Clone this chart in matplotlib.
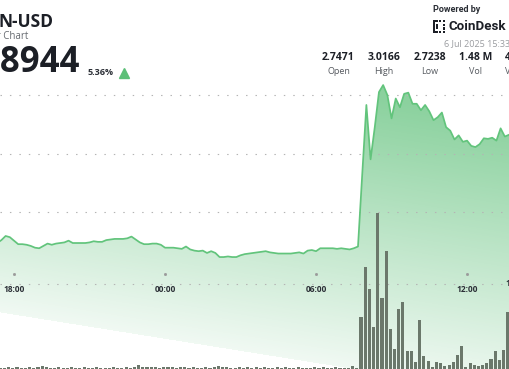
import numpy as np
import pandas as pd
import matplotlib
matplotlib.use("Agg")
import matplotlib.pyplot as plt
import matplotlib.dates as mdates
import matplotlib.transforms as mtransforms
from matplotlib.patches import Polygon, Rectangle

plt.rcParams['font.family'] = ['Open Sans', 'DejaVu Sans']

# ---------------- data ----------------
times = pd.date_range('2025-07-05 17:20', periods=124, freq='10min')

price = [
    2.747, 2.752, 2.759, 2.757, 2.751, 2.745, 2.745, 2.744, 2.742, 2.739,
    2.738, 2.742, 2.746, 2.744, 2.746, 2.747, 2.748, 2.751, 2.747, 2.747,
    2.747, 2.747, 2.748, 2.750, 2.749, 2.749, 2.752, 2.753, 2.754, 2.754,
    2.754, 2.755, 2.758, 2.753, 2.748, 2.745, 2.745, 2.746, 2.746, 2.744,
    2.739, 2.739, 2.739, 2.738, 2.737, 2.741, 2.736, 2.734, 2.733, 2.734,
    2.730, 2.733, 2.730, 2.723, 2.723, 2.724, 2.723, 2.723, 2.726, 2.728,
    2.729, 2.730, 2.731, 2.732, 2.733, 2.731, 2.730, 2.729, 2.729, 2.729,
    2.729, 2.730, 2.731, 2.729, 2.734, 2.735, 2.733, 2.738, 2.738, 2.738,
    2.738, 2.737, 2.738, 2.737, 2.736, 2.738, 2.741, 2.863, 2.983, 2.890,
    2.945, 3.005, 3.017, 3.000, 2.960, 2.994, 2.979, 3.002, 3.004, 2.985,
    2.985, 2.974, 2.983, 2.972, 2.957, 2.962, 2.970, 2.945, 2.939, 2.924,
    2.931, 2.920, 2.922, 2.913, 2.911, 2.916, 2.926, 2.925, 2.927, 2.922,
    2.943, 2.929, 2.932, 2.935,
]

# volume per 10 min bar, thousands
volume_k = [
    0.6, 0.6, 0.6, 1.9, 0.6, 1.3, 0.6, 0.6, 2.5, 0.6,
    1.9, 3.1, 2.5, 0.6, 0.6, 1.9, 0.6, 0.6, 1.9, 0.6,
    0.6, 1.3, 0.6, 0.6, 1.3, 0.6, 0.6, 0.6, 1.3, 0.6,
    0.6, 1.3, 0.6, 1.3, 3.8, 1.9, 1.9, 1.3, 2.5, 0.6,
    1.9, 1.3, 2.5, 0.6, 1.3, 1.9, 0.6, 1.3, 0.6, 0.6,
    1.9, 0.6, 1.3, 3.1, 1.3, 1.9, 0.6, 0.6, 1.3, 0.6,
    1.3, 0.6, 1.3, 0.6, 1.3, 0.6, 0.6, 1.3, 0.6, 1.3,
    0.6, 0.6, 1.3, 0.6, 0.6, 0.6, 1.3, 0.6, 1.9, 0.6,
    0.6, 1.3, 0.6, 0.6, 0.6, 3.1, 0.6, 64.8, 126.5, 99.4,
    51.9, 194.0, 87.8, 147.3, 49.4, 24.4, 74.4, 82.8, 22.3, 22.3,
    7.8, 60.6, 15.6, 9.4, 2.5, 7.8, 6.9, 3.5, 4.0, 7.8,
    16.3, 28.1, 2.5, 6.6, 4.8, 3.5, 4.1, 7.3, 11.5, 21.9,
    10.3, 23.5, 70.3, 40.0,
]

tick_times = pd.to_datetime(['2025-07-05 18:00', '2025-07-06 00:00',
                             '2025-07-06 06:00', '2025-07-06 12:00'])
tick_labels = ['18:00', '00:00', '06:00', '12:00']
price_grid = [3.0, 2.9, 2.8]

symbol = 'N-USD'
subtitle = '24 Hour Chart'
last_price = '2.8944'
change_pct = '5.36%'
stat_values = ['2.7471', '3.0166', '2.7238', '1.48 M', '4.22 M']
stat_labels = ['Open', 'High', 'Low', 'Vol', 'Vol USD']
timestamp = '6 Jul 2025 15:33'

# ---------------- layout helpers ----------------
W, H = 510, 369
fig = plt.figure(figsize=(W / 100, H / 100), dpi=100)
fig.patch.set_facecolor('white')


def fx(x):
    return x / W


def fy(y):
    return 1 - y / H


PX_PER_HOUR = 25.17
t18 = mdates.date2num(pd.Timestamp('2025-07-05 18:00'))
xmin = t18 - (14 / PX_PER_HOUR) / 24
xmax = t18 + ((W - 14) / PX_PER_HOUR) / 24
PX_PER_UNIT = 585.0
ytop = 3.0 + 95 / PX_PER_UNIT
ybot = 3.0 - (H - 95) / PX_PER_UNIT

ax = fig.add_axes([0, 0, 1, 1], zorder=1)
ax.set_xlim(xmin, xmax)
ax.set_ylim(ybot, ytop)
ax.set_axis_off()

tnum = mdates.date2num(times)

# gradient fill under the price line
rows, cols = np.mgrid[0:H, 0:W].astype(float)
u = rows - 0.16 * cols
alpha = np.where(u < 312, 0.09 + 0.62 * np.clip((312 - u) / 273.6, 0, 1), 0.0)
alpha = np.clip(alpha, 0, 0.75)
green = np.array([92, 191, 119]) / 255.0
img = np.zeros((H, W, 4))
img[..., :3] = green
img[..., 3] = alpha
verts = list(zip(tnum, price)) + [(tnum[-1], ybot - 0.05), (tnum[0], ybot - 0.05)]
poly = Polygon(verts, closed=True, facecolor='none', edgecolor='none')
ax.add_patch(poly)
im = ax.imshow(img, extent=(xmin, xmax, ybot, ytop), origin='upper',
               aspect='auto', interpolation='bilinear', zorder=1)
im.set_clip_path(poly)

# dotted grid lines
for g in price_grid:
    ax.axhline(g, color='#b4b4b4', lw=0.8, linestyle=(0, (1.3, 7.2)), zorder=2)
trans_xax = mtransforms.blended_transform_factory(ax.transData, ax.transAxes)
ax.plot([xmin, xmax], [fy(284), fy(284)], transform=trans_xax, color='#b4b4b4',
        lw=0.8, linestyle=(0, (1.3, 7.2)), zorder=2)
for tt, lab in zip(tick_times, tick_labels):
    tx = mdates.date2num(tt)
    ax.plot([tx], [fy(274)], transform=trans_xax, marker='s', ms=1.0,
            color='#9a9a9a', zorder=3)
    ax.text(tx, fy(289.5), lab, transform=trans_xax, ha='center', va='center',
            fontsize=6, fontweight='bold', color='#2b2f36', zorder=5)

# price line
ax.plot(tnum, price, color='#62c47c', lw=1.25, solid_joinstyle='round', zorder=4)

# volume bars
vax = fig.add_axes([0, 0, 1, 1], zorder=2, sharex=ax)
vax.patch.set_visible(False)
vax.set_axis_off()
vax.set_ylim(-0.625, H * 1.25 - 0.625)
bar_shift = (1.2 / PX_PER_HOUR) / 24
bar_w = (3.1 / PX_PER_HOUR) / 24
vax.bar(tnum - bar_shift, volume_k, width=bar_w, color='#6b786b', edgecolor='none')
vax.set_xlim(xmin, xmax)

# ---------------- header texts ----------------
dark = '#1c1f26'
fig.text(fx(-2), fy(22), symbol, ha='left', va='center', fontsize=12.5,
         fontweight='bold', color=dark)
fig.text(fx(28), fy(36.5), subtitle, ha='right', va='center', fontsize=7,
         color='#666a70')
fig.text(fx(80), fy(63), last_price, ha='right', va='center', fontsize=25,
         fontweight='bold', color=dark)
fig.text(fx(88), fy(72.5), change_pct, ha='left', va='center', fontsize=6.5,
         fontweight='bold', color='#2b2f36')
fig.add_artist(plt.Line2D([fx(124.5)], [fy(73)], marker='^', ms=7,
                          color='#5cbf77', transform=fig.transFigure))

fig.text(fx(433), fy(10), 'Powered by', ha='left', va='center', fontsize=6.5,
         fontweight='bold', color='#2b2f36', family=['Roboto', 'DejaVu Sans'])
# CoinDesk logo mark
for (x, y, w, h) in [(433, 20, 2, 13), (433, 20, 5, 2), (433, 31, 5, 2),
                     (439, 20, 2, 2), (443, 20, 2, 2), (439, 31, 2, 2),
                     (443, 31, 2, 2), (443, 24, 2, 2), (443, 27.5, 2, 2),
                     (436.5, 24, 2, 5)]:
    fig.add_artist(Rectangle((fx(x), fy(y + h)), w / W, h / H,
                             transform=fig.transFigure, color='#1c1f26', lw=0))
fig.text(fx(449), fy(26.5), 'CoinDesk', ha='left', va='center', fontsize=9.6,
         fontweight='bold', color='#1c1f26', family=['Roboto', 'DejaVu Sans'])
fig.text(fx(444.5), fy(43.5), timestamp, ha='left', va='center', fontsize=6.5,
         color='#9a9ca0')

stat_x = [338.5, 384, 430, 475.5, 522]
for x, v, l in zip(stat_x, stat_values, stat_labels):
    fig.text(fx(x), fy(58), v, ha='center', va='center', fontsize=7.5,
             fontweight='bold', color=dark)
    fig.text(fx(x), fy(71.5), l, ha='center', va='center', fontsize=6.5,
             color='#55595f')

fig.text(fx(505), fy(283.5), '1', ha='left', va='center', fontsize=6,
         fontweight='bold', color='#2b2f36')

fig.savefig('out.png', dpi=100, facecolor='white')
